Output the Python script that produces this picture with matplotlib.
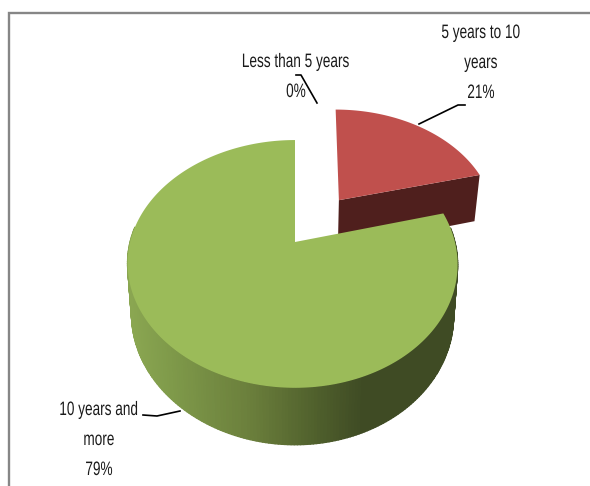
import numpy as np
import matplotlib
matplotlib.use('Agg')
import matplotlib.pyplot as plt
import matplotlib.patheffects as pe
from matplotlib.collections import PolyCollection
from matplotlib.colors import LinearSegmentedColormap
from matplotlib.transforms import Affine2D

labels = ['Less than 5 years', '5 years to 10\nyears', '10 years and\nmore']
values = [0, 21, 79]
colors = ['#4f81bd', '#c0504d', '#9bbb59']

W, H = 590, 486
APEX_X, APEX_Y = 295, 242
TOP_A, TOP_B = 162.4, 120.0
BOT_A, BOT_B, BOT_Y = 158.5, 126.0, 291.6
PERSP = 0.177
EXPLODE = 0.47
BEND = 2.5
LEAN = 3.0
SQUEEZE = 0.70


class Squeeze(pe.AbstractPathEffect):
    # narrow glyphs around a fixed x, the text stays a real text object
    def __init__(self, cx, sx):
        super().__init__()
        self.cx = cx
        self.sx = sx

    def draw_path(self, renderer, gc, tpath, affine, rgbFace=None):
        squeeze = Affine2D().translate(-self.cx, 0).scale(self.sx, 1).translate(self.cx, 0)
        renderer.draw_path(gc, tpath, affine + squeeze, rgbFace)


def project(u, v, a, b, cy):
    # pie plane -> picture, far side of the pie comes out smaller
    d = 1 + PERSP * v
    return APEX_X + a * u / d, cy - b * v / d


def top(u, v):
    return project(u, v, TOP_A, TOP_B, APEX_Y)


def bottom(u, v):
    return project(u, v, BOT_A, BOT_B, BOT_Y)


def wedge_uv(start, end, off):
    t = np.linspace(start, end, 300)
    return off[0] + np.sin(t), off[1] + np.cos(t)


fig = plt.figure(figsize=(W / 100, H / 100), dpi=100)
ax = fig.add_axes([0, 0, 1, 1])
ax.set_xlim(0, W)
ax.set_ylim(H, 0)
ax.set_axis_off()

# frame of the chart area
ax.plot([8.5, 8.5, W], [H, 13.5, 13.5], color='#868686', lw=1.7, solid_joinstyle='miter')

fracs = np.array(values) / sum(values)
edges = np.concatenate([[0], np.cumsum(fracs)]) * 2 * np.pi

# red slice: pulled out along its middle angle, only its cut side shows
s, e = edges[1], edges[2]
mid = (s + e) / 2
off = (EXPLODE * np.sin(mid), EXPLODE * np.cos(mid))
u, v = wedge_uv(s, e, off)
uu, vv = np.r_[off[0], u], np.r_[off[1], v]
xs, ys = top(uu, vv)
xs = xs + LEAN * (vv - off[1])
cut_u = np.array([off[0], u[-1]])
cut_v = np.array([off[1], v[-1]])
tx, ty = top(cut_u, cut_v)
tx = tx + LEAN * (cut_v - off[1])
bx, by = bottom(cut_u, cut_v)
ax.fill(np.r_[tx, bx[::-1]], np.r_[ty, by[::-1]], color='#4f1f1d', lw=0, zorder=2)
ax.fill(xs, ys, color=colors[1], lw=0, zorder=3)

# green slice: rim shaded left to right, then the top face
s, e = edges[2], edges[3]
u, v = wedge_uv(s, e, (0, 0))
tx, ty = top(u, v)
bx, by = bottom(u, v)
tx = tx - BEND * u ** 2
bx = bx - BEND * u ** 2
# only the near side of the rim shows
quads = [[(tx[i], ty[i]), (tx[i + 1], ty[i + 1]), (bx[i + 1], by[i + 1]), (bx[i], by[i])]
         for i in range(len(u) - 1) if v[i] < 0.12]
mid_x = np.array([q[0][0] for q in quads])
shade = LinearSegmentedColormap.from_list('rim', [(0.0, '#8aa651'), (0.13, '#7f9a4a'), (0.4, '#6b7f3c'),
                                                  (0.63, '#4f5f2c'), (0.78, '#3f4b24'), (1.0, '#3f4b24')])
pos = np.clip((mid_x - 130) / 300, 0, 1)
rim = PolyCollection(quads, facecolors=shade(pos), edgecolors=shade(pos), linewidths=1.0, zorder=4)
ax.add_collection(rim)
xs, ys = top(np.r_[0, u], np.r_[0, v])
xs = xs - BEND * np.r_[0, u] ** 2
ax.fill(xs, ys, color=colors[2], lw=0, zorder=5)

# labels and leaders
font = ['Liberation Sans', 'DejaVu Sans']
label_pos = [(296, 77.5), (481, 63.5), (99, 440.5)]
for name, val, (x, y) in zip(labels, values, label_pos):
    ax.text(x, y, '{0}\n{1}%'.format(name, val), ha='center', va='center', family=font,
            fontsize=14, color='#1a1a1a', linespacing=2.0, zorder=6,
            path_effects=[Squeeze(x, SQUEEZE)])

leaders = [([296, 301, 317], [75, 75, 103]),
           ([465, 458, 419], [105, 105, 124]),
           ([143, 157, 180], [415, 416, 411])]
for lx, ly in leaders:
    ax.plot(lx, ly, color='black', lw=1.2, zorder=6)

fig.savefig('out.png', dpi=100)
